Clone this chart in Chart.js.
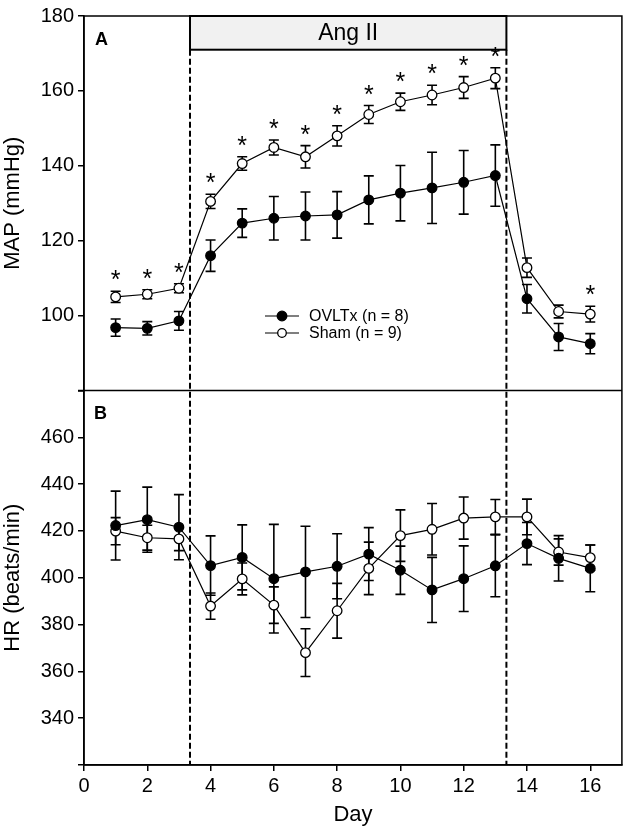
<!DOCTYPE html>
<html>
<head>
<meta charset="utf-8">
<script src="https://cdn.jsdelivr.net/npm/chart.js@4.4.0/dist/chart.umd.min.js"></script>
<style>
html, body { margin: 0; padding: 0; background: #fff; overflow: hidden; }
#chart { display: block; }
</style>
</head>
<body>
<canvas id="chart" width="628" height="828"></canvas>
<script>
// days of the protocol
let days = [1, 2, 3, 4, 5, 6, 7, 8, 9, 10, 11, 12, 13, 14, 15, 16];

// panel A - MAP (mmHg)
let mapOvltx    = [96.8, 96.6, 98.6, 116.0, 124.7, 126.0, 126.6, 126.9, 130.9, 132.7, 134.1, 135.6, 137.4, 104.5, 94.3, 92.5];
let mapOvltxErr = [2.3, 1.8, 2.5, 4.2, 3.8, 5.8, 6.4, 6.2, 6.4, 7.4, 9.5, 8.5, 8.2, 3.8, 3.6, 2.7];
let mapSham     = [105.0, 105.7, 107.3, 130.5, 140.6, 144.9, 142.4, 148.0, 153.7, 157.1, 158.9, 160.9, 163.4, 112.8, 101.1, 100.4];
let mapShamErr  = [1.5, 1.2, 1.2, 1.9, 1.8, 2.0, 3.0, 2.7, 2.4, 2.3, 2.6, 2.9, 2.8, 2.6, 1.7, 2.1];
let mapSigDays  = [1, 2, 3, 4, 5, 6, 7, 8, 9, 10, 11, 12, 13, 16];

// panel B - HR (beats/min)
let hrOvltx    = [422.3, 424.8, 421.6, 405.2, 408.7, 399.6, 402.5, 404.9, 410.1, 403.2, 394.8, 399.6, 405.1, 414.6, 408.3, 404.0];
let hrOvltxErr = [14.7, 13.9, 13.9, 12.7, 13.9, 23.2, 19.5, 13.9, 11.3, 10.3, 13.9, 14.0, 13.2, 9.0, 9.7, 10.0];
let hrSham     = [419.9, 417.1, 416.6, 387.9, 399.5, 388.3, 368.0, 385.9, 404.0, 418.0, 420.7, 425.5, 426.0, 426.0, 411.0, 408.6];
let hrShamErr  = [5.8, 5.3, 5.0, 5.6, 6.8, 7.8, 10.2, 11.7, 11.2, 11.0, 11.0, 9.0, 7.4, 7.6, 5.6, 5.4];

// Ang II infusion period (days)
let angStart = 3.35;
let angEnd = 13.35;
let angBoxBottom = 171;

let seriesLabels = ['OVLTx (n = 8)', 'Sham (n = 9)'];
let FONT = '"Liberation Sans", Arial, Helvetica, sans-serif';

function pts(vals) {
    return days.map((d, i) => ({ x: d, y: vals[i] }));
}

function lineSet(label, vals, err, axis, filled) {
    return {
        label: label,
        data: pts(vals),
        err: err,
        yAxisID: axis,
        borderColor: '#000',
        borderWidth: 1.2,
        pointRadius: 4.8,
        pointBorderWidth: 1.3,
        pointBorderColor: '#000',
        pointBackgroundColor: filled ? '#000' : '#fff',
        tension: 0,
        fill: false
    };
}

const extras = {
    id: 'extras',
    beforeDatasetsDraw(chart) {
        const ctx = chart.ctx;
        // error bars
        chart.data.datasets.forEach((ds, i) => {
            const ys = chart.scales[ds.yAxisID];
            const xs = chart.scales.x;
            ctx.save();
            ctx.strokeStyle = '#000';
            ctx.lineWidth = 1.6;
            ds.data.forEach((p, j) => {
                const px = xs.getPixelForValue(p.x);
                const top = ys.getPixelForValue(p.y + ds.err[j]);
                const bot = ys.getPixelForValue(p.y - ds.err[j]);
                ctx.beginPath();
                ctx.moveTo(px, top); ctx.lineTo(px, bot);
                ctx.moveTo(px - 5, top); ctx.lineTo(px + 5, top);
                ctx.moveTo(px - 5, bot); ctx.lineTo(px + 5, bot);
                ctx.stroke();
            });
            ctx.restore();
        });
    },
    afterDatasetsDraw(chart) {
        const ctx = chart.ctx;
        const a = chart.chartArea;
        const xs = chart.scales.x, yA = chart.scales.yA, yB = chart.scales.yB;
        ctx.save();

        // frame + panel divider
        ctx.strokeStyle = '#000';
        ctx.lineWidth = 1.5;
        ctx.strokeRect(a.left, a.top, a.right - a.left, a.bottom - a.top);
        ctx.beginPath();
        ctx.moveTo(a.left - 6, yA.bottom);
        ctx.lineTo(a.right, yA.bottom);
        ctx.stroke();

        // Ang II box
        const bx1 = xs.getPixelForValue(angStart), bx2 = xs.getPixelForValue(angEnd);
        const by2 = yA.getPixelForValue(angBoxBottom);
        ctx.fillStyle = '#f1f1f1';
        ctx.fillRect(bx1, a.top, bx2 - bx1, by2 - a.top);
        ctx.lineWidth = 2;
        ctx.strokeRect(bx1, a.top, bx2 - bx1, by2 - a.top);
        ctx.fillStyle = '#000';
        ctx.font = '23px ' + FONT;
        ctx.textAlign = 'center';
        ctx.textBaseline = 'middle';
        ctx.fillText('Ang II', (bx1 + bx2) / 2, (a.top + by2) / 2 + 1);

        // dashed lines
        ctx.setLineDash([6, 3]);
        ctx.lineWidth = 2;
        [bx1, bx2].forEach(x => {
            ctx.beginPath();
            ctx.moveTo(x, by2);
            ctx.lineTo(x, a.bottom);
            ctx.stroke();
        });
        ctx.setLineDash([]);

        // significance stars on Sham MAP
        ctx.font = '25px ' + FONT;
        ctx.textBaseline = 'alphabetic';
        mapSigDays.forEach(d => {
            const i = days.indexOf(d);
            const px = xs.getPixelForValue(d);
            const py = yA.getPixelForValue(mapSham[i] + mapShamErr[i]);
            ctx.fillText('*', px, py - 3);
        });

        // panel letters
        ctx.font = 'bold 18px ' + FONT;
        ctx.textAlign = 'left';
        ctx.textBaseline = 'middle';
        ctx.fillText('A', a.left + 11, yA.top + 24);
        ctx.fillText('B', a.left + 10, yB.top + 24);

        // legend
        const lx = 265, ly = [316, 333];
        ctx.font = '16px ' + FONT;
        seriesLabels.forEach((lab, k) => {
            ctx.lineWidth = 1.2;
            ctx.beginPath();
            ctx.moveTo(lx, ly[k]); ctx.lineTo(lx + 34, ly[k]);
            ctx.stroke();
            ctx.beginPath();
            ctx.arc(lx + 17, ly[k], k === 0 ? 4.8 : 4.3, 0, Math.PI * 2);
            ctx.fillStyle = k === 0 ? '#000' : '#fff';
            ctx.fill();
            ctx.lineWidth = 1.3;
            ctx.stroke();
            ctx.fillStyle = '#000';
            ctx.fillText(lab, lx + 44, ly[k] + 1);
        });
        ctx.restore();
    }
};

function yAxis(min, max, title, hide) {
    return {
        type: 'linear',
        position: 'left',
        stack: 'panels',
        stackWeight: 1,
        min: min,
        max: max,
        afterFit: s => { s.width = 84; },
        ticks: {
            stepSize: 20,
            autoSkip: false,
            color: '#000',
            font: { family: FONT, size: 20 },
            padding: 4,
            callback: v => hide.includes(v) ? '' : v
        },
        grid: { drawOnChartArea: false, drawTicks: true, tickLength: 6, color: '#000', lineWidth: 1.5 },
        border: { color: '#000', width: 1.5 },
        title: { display: true, text: title, color: '#000', font: { family: FONT, size: 22 }, padding: { top: 0, bottom: 3 } }
    };
}

new Chart(document.getElementById('chart'), {
    type: 'line',
    data: {
        datasets: [
            lineSet(seriesLabels[0], mapOvltx, mapOvltxErr, 'yA', true),
            lineSet(seriesLabels[1], mapSham, mapShamErr, 'yA', false),
            lineSet(seriesLabels[0], hrOvltx, hrOvltxErr, 'yB', true),
            lineSet(seriesLabels[1], hrSham, hrShamErr, 'yB', false)
        ]
    },
    options: {
        responsive: false,
        animation: false,
        layout: { padding: { top: 11, right: 0, left: 0, bottom: 0 } },
        plugins: { legend: { display: false }, tooltip: { enabled: false } },
        scales: {
            x: {
                type: 'linear',
                position: 'bottom',
                min: 0,
                max: 17,
                afterFit: s => { s.height = 63; },
                ticks: {
                    stepSize: 2,
                    includeBounds: false,
                    autoSkip: false,
                    color: '#000',
                    font: { family: FONT, size: 20 },
                    padding: 3
                },
                grid: { drawOnChartArea: false, drawTicks: true, tickLength: 6, color: '#000', lineWidth: 1.5 },
                border: { color: '#000', width: 1.5 },
                title: { display: true, text: 'Day', color: '#000', font: { family: FONT, size: 22 }, padding: { top: 0, bottom: 0 } }
            },
            // the stack places the last listed scale on top
            yB: yAxis(320, 480, 'HR (beats/min)', [320, 480]),
            yA: yAxis(80, 180, 'MAP (mmHg)', [80])
        }
    },
    plugins: [extras]
});
</script>
</body>
</html>
